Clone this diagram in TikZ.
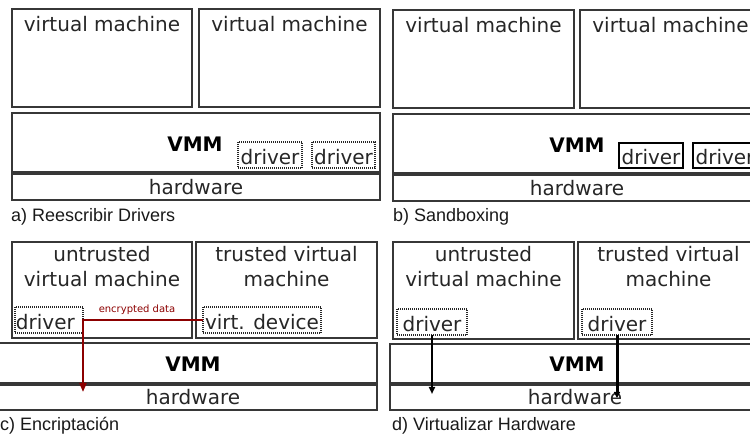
\documentclass[tikz,border=0pt]{standalone}
\usepackage{fontspec}
\setmainfont{DejaVu Sans}
\newfontfamily\capfont{Liberation Sans}
\usetikzlibrary{arrows.meta}
\definecolor{darkred}{RGB}{140,0,0}
\definecolor{linegray}{RGB}{55,55,55}
\begin{document}
\begin{tikzpicture}[x=1pt,y=-1pt,
  box/.style={draw=linegray, line width=1.3pt, inner sep=0pt, outer sep=0pt, anchor=north west},
  txt/.style={font=\fontsize{20pt}{25pt}\selectfont, inner sep=0pt, anchor=base, text=black!85},
  two/.style={font=\fontsize{20pt}{25pt}\selectfont, inner sep=0pt, align=center, text=black!85},
  bold/.style={font=\fontsize{20pt}{25pt}\selectfont\bfseries, inner sep=0pt, anchor=base},
  captxt/.style={font=\capfont\fontsize{18pt}{20pt}\selectfont, inner sep=0pt, anchor=base west, text=black!90},
  drvdot/.style={draw=black!85, line width=1.1pt, dash pattern=on 1pt off 1pt, anchor=north west,
    font=\fontsize{20pt}{25pt}\selectfont, text=black!85, inner xsep=1pt, inner ysep=1.5pt,
    text height=21pt, text depth=2pt, outer sep=0pt},
  drvsolid/.style={draw=black, line width=1.8pt, anchor=north west,
    font=\fontsize{20pt}{25pt}\selectfont, text=black!85, inner xsep=1pt, inner ysep=1.5pt,
    text height=20pt, text depth=2pt, outer sep=0pt},
  redarrow/.style={draw=darkred, line width=2pt, -{Triangle[length=9pt,width=7pt]}},
  blkarrow/.style={draw=black, line width=2pt, -{Triangle[length=7pt,width=6pt]}},
  blkarrowthick/.style={draw=black, line width=3pt, -{Triangle[length=6pt,width=6pt]}}
]
\useasboundingbox (0,0) rectangle (750,435);
\clip (0,0) rectangle (750,435);

% ---------- panel a ----------
\node[box, minimum width=180pt, minimum height=98pt] (a-vm1) at (12,9) {};
\node[box, minimum width=181pt, minimum height=98pt] (a-vm2) at (199,9) {};
\node[box, minimum width=368pt, minimum height=59pt] (a-vmm) at (12,113) {};
\node[box, minimum width=368pt, minimum height=26pt] (a-hw) at (12,174) {};
\node[txt] (a-vm1t) at (102,32) {virtual machine};
\node[txt] (a-vm2t) at (289.5,32) {virtual machine};
\node[bold] (a-vmmt) at (195,152) {VMM};
\node[txt] (a-hwt) at (196,195) {hardware};
\node[drvdot, minimum width=64pt] (a-d1) at (238,142) {driver};
\node[drvdot, minimum width=63pt] (a-d2) at (312,142) {driver};
\node[captxt] (a-cap) at (11,222) {a) Reescribir Drivers};

% ---------- panel b ----------
\node[box, minimum width=181pt, minimum height=98pt] (b-vm1) at (393,10) {};
\node[box, minimum width=181pt, minimum height=98pt] (b-vm2) at (580,10) {};
\node[box, minimum width=368pt, minimum height=59pt] (b-vmm) at (393,114) {};
\node[box, minimum width=368pt, minimum height=26pt] (b-hw) at (393,175) {};
\node[txt] (b-vm1t) at (483.5,33) {virtual machine};
\node[txt] (b-vm2t) at (670.5,33) {virtual machine};
\node[bold] (b-vmmt) at (577,153) {VMM};
\node[txt] (b-hwt) at (577,196) {hardware};
\node[drvsolid, minimum width=64pt] (b-d1) at (619,143) {driver};
\node[drvsolid, minimum width=64pt] (b-d2) at (693,143) {driver};
\node[captxt] (b-cap) at (393,222) {b) Sandboxing};

% ---------- panel c ----------
\node[box, minimum width=180pt, minimum height=96pt] (c-vm1) at (12,242) {};
\node[box, minimum width=181pt, minimum height=96pt] (c-vm2) at (196,242) {};
\node[box, minimum width=387pt, minimum height=40pt] (c-vmm) at (-10,343) {};
\node[box, minimum width=387pt, minimum height=25pt] (c-hw) at (-10,385) {};
\node[two] (c-vm1t) at (102,266.6) {untrusted\\virtual machine};
\node[two] (c-vm2t) at (286.5,266.6) {trusted virtual\\machine};
\node[bold] (c-vmmt) at (193,372) {VMM};
\node[txt] (c-hwt) at (193,405) {hardware};
\node[drvdot, text width=66pt, align=left] (c-drv) at (15,307) {driver};
\node[drvdot, minimum width=118pt] (c-dev) at (203,307) {virt. device};
\coordinate (c-tip) at (83,392);
\draw[redarrow] (c-dev.west) -- (c-dev.west -| c-tip) -- (c-tip);
\node[font=\fontsize{10pt}{12pt}\selectfont, text=darkred, inner sep=0pt, anchor=base] (c-lbl) at (137,313) {encrypted data};
\node[captxt] (c-cap) at (0,431) {c) Encriptación};

% ---------- panel d ----------
\node[box, minimum width=181pt, minimum height=97pt] (d-vm1) at (393,242) {};
\node[box, minimum width=182pt, minimum height=97pt] (d-vm2) at (578,242) {};
\node[box, minimum width=380pt, minimum height=39pt] (d-vmm) at (390,344) {};
\node[box, minimum width=380pt, minimum height=25pt] (d-hw) at (390,385) {};
\node[two] (d-vm1t) at (483.5,266.6) {untrusted\\virtual machine};
\node[two] (d-vm2t) at (668.5,266.6) {trusted virtual\\machine};
\node[bold] (d-vmmt) at (577,372) {VMM};
\node[txt] (d-hwt) at (575,405) {hardware};
\node[drvdot, minimum width=70pt] (d-d1) at (397,309) {driver};
\node[drvdot, minimum width=70pt] (d-d2) at (582,309) {driver};
\coordinate (d-tip1) at (432,394);
\coordinate (d-tip2) at (617,398);
\draw[blkarrow] (d-d1.south) -- (d-tip1);
\draw[blkarrowthick] (d-d2.south) -- (d-tip2);
\node[captxt] (d-cap) at (392,431) {d) Virtualizar Hardware};
\end{tikzpicture}
\end{document}
